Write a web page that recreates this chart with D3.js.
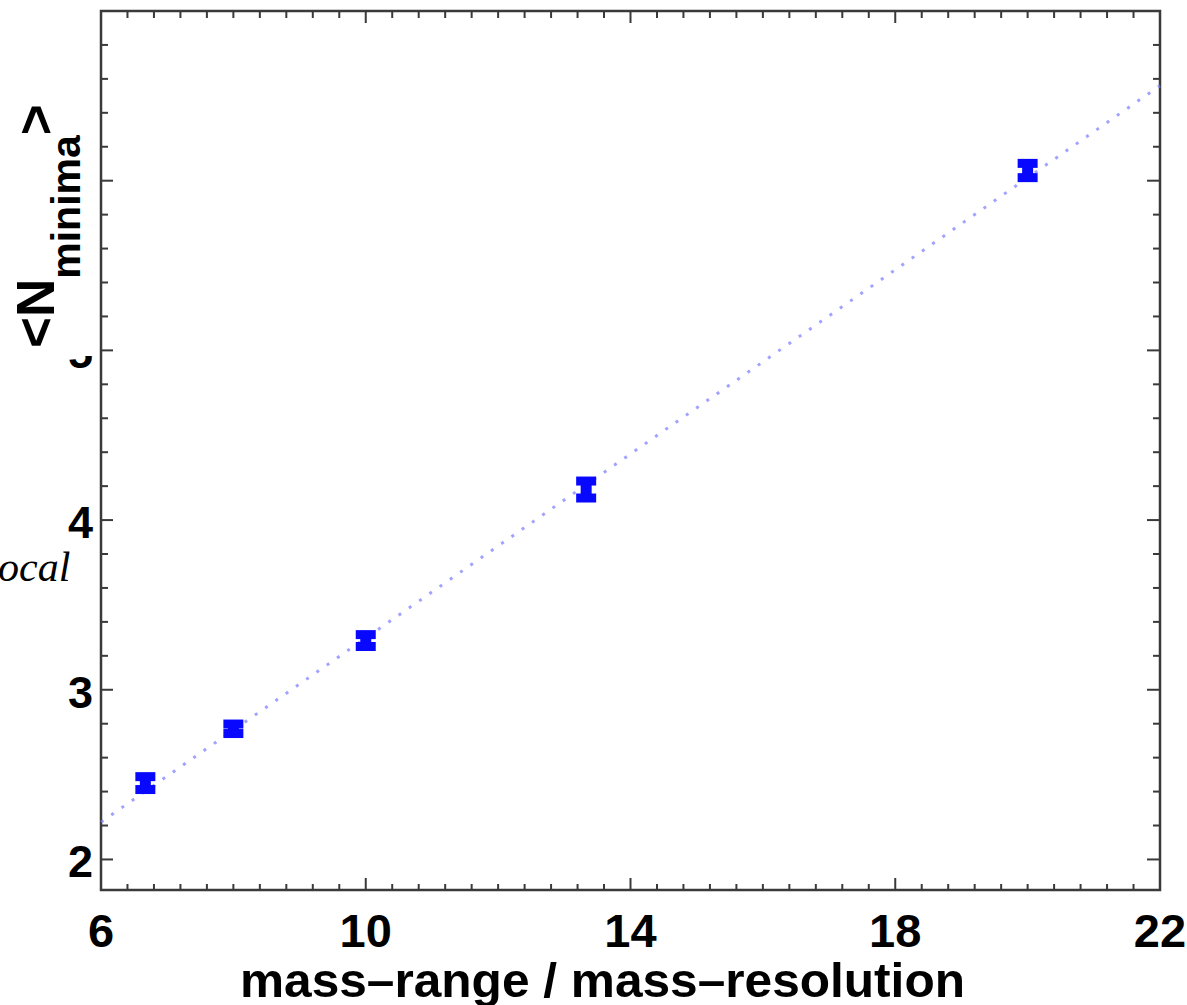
<!DOCTYPE html>
<html>
<head>
<meta charset="utf-8">
<script src="https://cdn.jsdelivr.net/npm/d3@7"></script>
<style>
    body { margin: 0; background: white; }
    text { font-family: "Liberation Sans", Arial, sans-serif; }
</style>
</head>
<body>
<div id="chart"></div>
<script>
// data
const ratio = [6.67, 8, 10, 13.33, 20];
const nMinima = [2.45, 2.77, 3.29, 4.18, 6.06];
const nErr = [0.038, 0.028, 0.035, 0.05, 0.042];
const fitLine = [{x: 6, y: 2.22}, {x: 22, y: 6.56}];
const xTickLabels = [6, 10, 14, 18, 22];
const yTickLabels = [2, 3, 4];

//SVG
const width = 1187;
const height = 1005;
const margin = {t: 11, b: 115, l: 101, r: 27};
const svg = d3.select("#chart")
    .append("svg")
    .attr("width", width)
    .attr("height", height)
    .attr("viewBox", [0, 0, width, height]);

const xScale = d3.scaleLinear()
    .domain([6, 22])
    .range([margin.l, width - margin.r]);

const yScale = d3.scaleLinear()
    .domain([1.82, 7])
    .range([height - margin.b, margin.t]);

const frameColor = "#3a3a3a";

//minor + major ticks, all sides, pointing inward
const xMinor = d3.range(6, 22.01, 0.4).map(d => +d.toFixed(1));
const yMinor = d3.range(2, 7.01, 0.2).map(d => +d.toFixed(1));

function isMajor(v, step) {
    return Math.abs(v / step - Math.round(v / step)) < 1e-6;
}

const plotB = height - margin.b;
const plotT = margin.t;
const plotL = margin.l;
const plotR = width - margin.r;

svg.append("g").selectAll("line")
    .data(xMinor)
    .join("line")
    .attr("x1", d => xScale(d))
    .attr("x2", d => xScale(d))
    .attr("y1", plotB)
    .attr("y2", d => plotB - (isMajor(d - 6, 4) ? 12 : 6))
    .attr("stroke", frameColor)
    .attr("stroke-width", 2);

svg.append("g").selectAll("line")
    .data(xMinor)
    .join("line")
    .attr("x1", d => xScale(d))
    .attr("x2", d => xScale(d))
    .attr("y1", plotT)
    .attr("y2", d => plotT + (isMajor(d - 6, 4) ? 12 : 7))
    .attr("stroke", frameColor)
    .attr("stroke-width", 2);

svg.append("g").selectAll("line")
    .data(yMinor)
    .join("line")
    .attr("x1", plotL)
    .attr("x2", d => plotL + (isMajor(d, 1) ? 12 : 7))
    .attr("y1", d => yScale(d))
    .attr("y2", d => yScale(d))
    .attr("stroke", frameColor)
    .attr("stroke-width", 2);

svg.append("g").selectAll("line")
    .data(yMinor)
    .join("line")
    .attr("x1", plotR)
    .attr("x2", d => plotR - (isMajor(d, 1) ? 13 : 7))
    .attr("y1", d => yScale(d))
    .attr("y2", d => yScale(d))
    .attr("stroke", frameColor)
    .attr("stroke-width", 2);

//frame
svg.append("rect")
    .attr("x", plotL)
    .attr("y", plotT)
    .attr("width", plotR - plotL)
    .attr("height", plotB - plotT)
    .attr("fill", "none")
    .attr("stroke", frameColor)
    .attr("stroke-width", 2.5);

//tick labels
svg.append("g").selectAll("text")
    .data(xTickLabels)
    .join("text")
    .attr("x", d => xScale(d))
    .attr("y", 947)
    .attr("text-anchor", "middle")
    .attr("font-size", "47px")
    .attr("font-weight", "bold")
    .text(d => d);

svg.append("g").selectAll("text")
    .data(yTickLabels)
    .join("text")
    .attr("x", 93)
    .attr("y", d => yScale(d) + 18)
    .attr("text-anchor", "end")
    .attr("font-size", "45px")
    .attr("font-weight", "bold")
    .text(d => d);

//the "5" label is mostly hidden under the axis title
svg.append("clipPath")
    .attr("id", "clip5")
    .append("rect")
    .attr("x", 0)
    .attr("y", 356)
    .attr("width", 100)
    .attr("height", 30);
svg.append("text")
    .attr("x", 93)
    .attr("y", yScale(5) + 18)
    .attr("text-anchor", "end")
    .attr("font-size", "45px")
    .attr("font-weight", "bold")
    .attr("clip-path", "url(#clip5)")
    .text(5);

//axis titles
svg.append("text")
    .attr("x", 240)
    .attr("y", 997)
    .attr("font-size", "48px")
    .attr("font-weight", "bold")
    .attr("textLength", 725)
    .attr("lengthAdjust", "spacingAndGlyphs")
    .text("mass\u2013range / mass\u2013resolution");

const yTitle = svg.append("text")
    .attr("transform", "translate(54, 348) rotate(-90)")
    .attr("font-weight", "bold")
    .attr("font-size", "53px");
yTitle.append("tspan").text("<N");
yTitle.append("tspan")
    .attr("font-size", "41px")
    .attr("dy", 26)
    .text("minima");
yTitle.append("tspan")
    .attr("dy", -26)
    .text(">");

//stray text from the page around the figure
svg.append("text")
    .attr("x", -2)
    .attr("y", 581)
    .style("font-family", "'Liberation Serif', 'Times New Roman', serif")
    .style("font-style", "italic")
    .attr("font-size", "42px")
    .text("ocal");

//fit line (dotted)
const makeLine = d3.line()
    .x(d => xScale(d.x))
    .y(d => yScale(d.y));

svg.append("path")
    .attr("d", makeLine(fitLine))
    .attr("fill", "none")
    .attr("stroke", "#7a7aff")
    .attr("stroke-opacity", 0.7)
    .attr("stroke-width", 3)
    .attr("stroke-dasharray", "3 9.5");

//error bars
const points = ratio.map((r, i) => ({x: r, y: nMinima[i], e: nErr[i]}));
const bars = svg.append("g").attr("fill", "none").attr("stroke", "#0808ff");

bars.selectAll(".stem")
    .data(points)
    .join("line")
    .attr("class", "stem")
    .attr("x1", d => xScale(d.x))
    .attr("x2", d => xScale(d.x))
    .attr("y1", d => yScale(d.y - d.e))
    .attr("y2", d => yScale(d.y + d.e))
    .attr("stroke-width", 11);

bars.selectAll(".capTop")
    .data(points)
    .join("line")
    .attr("class", "capTop")
    .attr("x1", d => xScale(d.x) - 10)
    .attr("x2", d => xScale(d.x) + 10)
    .attr("y1", d => yScale(d.y + d.e))
    .attr("y2", d => yScale(d.y + d.e))
    .attr("stroke-width", 9);

bars.selectAll(".capBot")
    .data(points)
    .join("line")
    .attr("class", "capBot")
    .attr("x1", d => xScale(d.x) - 10)
    .attr("x2", d => xScale(d.x) + 10)
    .attr("y1", d => yScale(d.y - d.e))
    .attr("y2", d => yScale(d.y - d.e))
    .attr("stroke-width", 9);
</script>
</body>
</html>
